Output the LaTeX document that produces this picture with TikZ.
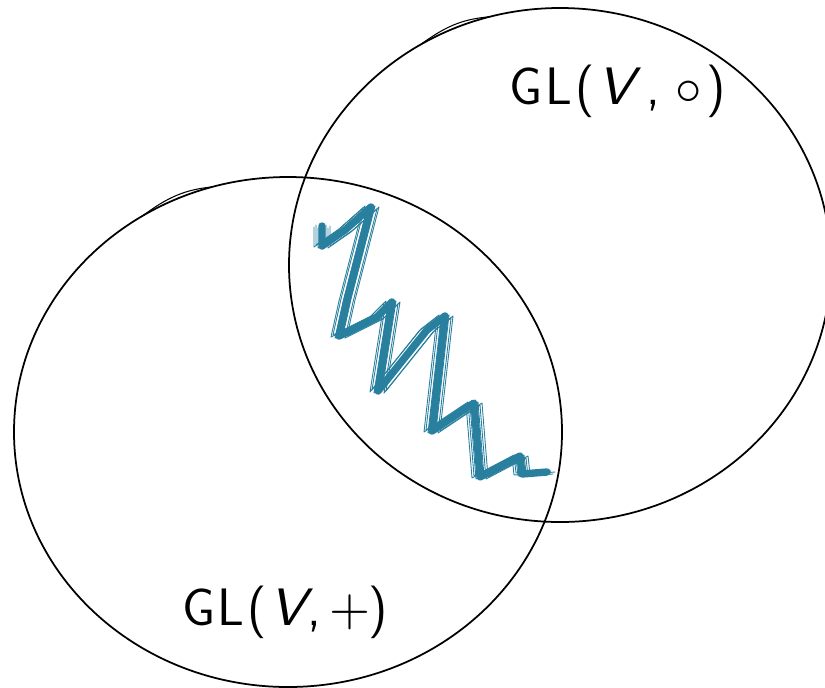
\documentclass[tikz,border=0pt]{standalone}
\definecolor{zig}{RGB}{40,127,158}
\newlength\pxu
\setlength\pxu{0.5669pt}
\newcommand\gb[2]{\makebox[#1\pxu][l]{#2}}
\newcommand\bigsym[1]{\scalebox{3}{\fontsize{10}{12}\selectfont$#1$}}
\newcommand\wideV{\scalebox{1.1}[1]{\textit{V}}}
\begin{document}
\begin{tikzpicture}[x=0.02cm,y=-0.02cm,
  circ/.style={draw=black, line width=1pt},
  zigstroke/.style={draw=zig, line join=round, line cap=round},
  lbl/.style={font=\fontsize{30}{36}\selectfont\sffamily, anchor=base west, inner sep=0pt}]
\useasboundingbox (0,0) rectangle (825,687);
% left set
\draw[circ] (288,432) ellipse [x radius=274, y radius=255];
\draw[circ, line width=0.6pt] plot[domain=106:122, samples=25]
  ({288+274*cos(\x)}, {432-(255+4*sin((\x-106)*11.25))*sin(\x)});
% right set
\draw[circ] (560,265) ellipse [x radius=271, y radius=257];
\draw[circ, line width=0.6pt] plot[domain=105:121, samples=25]
  ({560+271*cos(\x)}, {265-(257+4*sin((\x-105)*11.25))*sin(\x)});
% zigzag
\foreach \dx/\dy/\w in {0/0/4.2pt, -8/1/0.5pt, -6/-1/0.5pt, -4/2/0.5pt, -2/-2/0.5pt, 2/1/0.5pt, 4/-1/0.5pt, 6/2/0.5pt, 8/0/0.5pt}
  \draw[zigstroke, line width=\w, shift={(\dx,\dy)}]
    (322,226) -- (322,246) -- (345,230) -- (371,207) -- (347,300) -- (339,336)
    -- (377,317) -- (392,302) -- (378,391) -- (427,330) -- (445,316) -- (432,431)
    -- (474,403) -- (480,477) -- (520,456) -- (522,474) -- (547,472);
% labels
\node[lbl] (gcirc) at (509,104) {\gb{36}{G}\gb{30}{L}\gb{22}{(}\gb{50}{\wideV}\gb{29}{,}\gb{31}{\bigsym{\circ}})};
\node[lbl] (gplus) at (182,625) {\gb{35}{G}\gb{30}{L}\gb{22}{(}\gb{39}{\wideV}\gb{22}{,}\gb{39}{\bigsym{+}})};
\end{tikzpicture}
\end{document}
